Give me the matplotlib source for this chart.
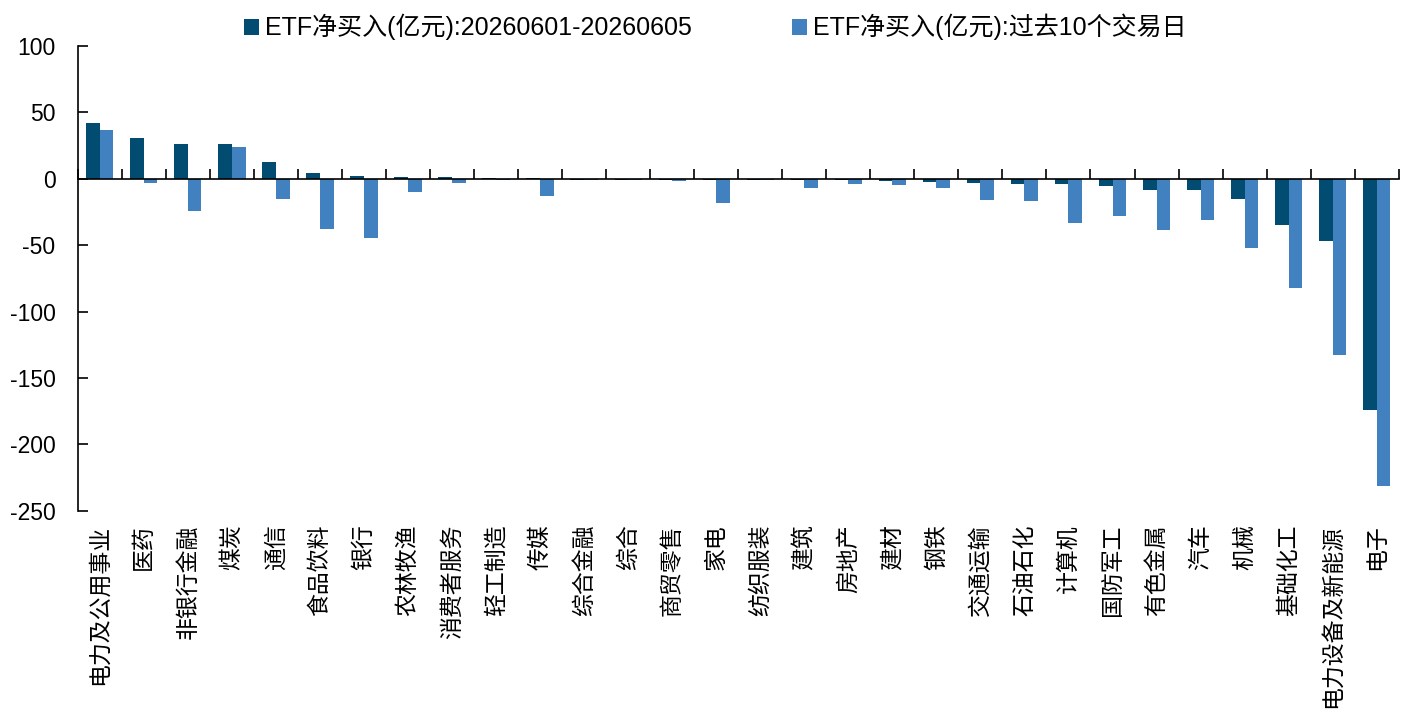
import numpy as np
import matplotlib
matplotlib.use("Agg")
import matplotlib.pyplot as plt
from matplotlib.ticker import FixedLocator

plt.rcParams['font.family'] = ['Liberation Sans', 'Noto Sans CJK SC', 'DejaVu Sans']

# industries (30)
industries = ["电力及公用事业", "医药", "非银行金融", "煤炭", "通信", "食品饮料", "银行",
              "农林牧渔", "消费者服务", "轻工制造", "传媒", "综合金融", "综合", "商贸零售",
              "家电", "纺织服装", "建筑", "房地产", "建材", "钢铁", "交通运输", "石油石化",
              "计算机", "国防军工", "有色金属", "汽车", "机械", "基础化工", "电力设备及新能源", "电子"]

# ETF net buying, 100m yuan
week_vals = [42, 30.5, 26.5, 26.3, 12.3, 4.2, 1.8, 1.4, 1.0, 0.8, 0.8, -0.6, -0.8, -1.0, -1.0,
             -1.0, -1.2, -1.2, -1.7, -2.5, -3.3, -3.8, -4.0, -5.3, -8.3, -8.5, -15.5, -35, -47, -174]
past10_vals = [36.5, -3.2, -24, 24, -15, -37.5, -44.5, -10, -3.3, -1.2, -12.8, -0.6, -1.0, -1.5, -18,
               -1.0, -7, -4.3, -5, -6.8, -16.3, -16.8, -33, -28, -38.5, -31, -52, -82, -133, -231.5]

series_names = ["ETF净买入(亿元):20260601-20260605", "ETF净买入(亿元):过去10个交易日"]
yticks = [100, 50, 0, -50, -100, -150, -200, -250]

dark = "#024B71"
light = "#4281C0"

fig = plt.figure(figsize=(14.11, 7.11), dpi=100)
ax = fig.add_axes([0.0551, 0.2817, 0.9362, 0.6536])

x = np.arange(len(industries))
w = 0.31
ax.bar(x - w / 2, week_vals, w, color=dark, label=series_names[0], zorder=2)
ax.bar(x + w / 2, past10_vals, w, color=light, label=series_names[1], zorder=2)

ax.set_xlim(-0.5, len(industries) - 0.5)
ax.set_ylim(-250, 100)
ax.set_yticks(yticks)
ax.set_yticklabels([str(v) for v in yticks], fontsize=16.5)
ax.tick_params(axis='y', direction='in', length=7, width=1.2, pad=16)

# x axis sits on zero, ticks between categories
ax.spines['top'].set_visible(False)
ax.spines['right'].set_visible(False)
ax.spines['left'].set_linewidth(1.2)
ax.spines['bottom'].set_position(('data', 0))
ax.spines['bottom'].set_linewidth(1.2)
ax.spines['bottom'].set_zorder(3)
ax.set_xticks(x)
ax.set_xticklabels([])
ax.tick_params(axis='x', which='major', length=0)
ax.xaxis.set_minor_locator(FixedLocator(np.arange(-0.5, len(industries), 1.0)))
ax.tick_params(axis='x', which='minor', direction='in', length=7, width=1.2)

for i, lab in enumerate(industries):
    ax.text(i, -0.03, lab, transform=ax.get_xaxis_transform(), rotation=90,
            ha='center', va='top', fontsize=16.5, family=['Noto Sans CJK SC', 'DejaVu Sans'])

fig.legend(loc='upper center', bbox_to_anchor=(0.507, 1.012), ncol=2, frameon=False,
           fontsize=18, handlelength=0.6, handleheight=0.6, handletextpad=0.25,
           columnspacing=4.0)

fig.savefig("out.png", dpi=100)
